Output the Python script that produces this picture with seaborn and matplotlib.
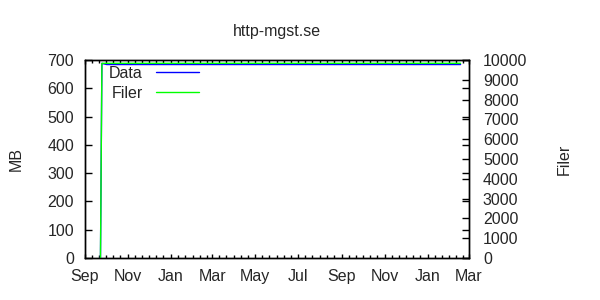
import matplotlib
matplotlib.use("Agg")
import matplotlib.pyplot as plt
import matplotlib.dates as mdates
import seaborn as sns
import pandas as pd

# ---- data ----
title = "http-mgst.se"
data_dates = ["2008-09-23", "2008-09-24", "2008-09-25", "2008-10-02", "2010-02-17"]
data_mb = [0, 340, 688, 684, 684]
filer_dates = ["2008-09-23", "2008-09-24", "2008-09-25", "2010-02-17"]
filer_count = [0, 4860, 9833, 9833]
x_start, x_end = "2008-09-01", "2010-03-01"
mb_ticks = [0, 100, 200, 300, 400, 500, 600, 700]
filer_ticks = [0, 1000, 2000, 3000, 4000, 5000, 6000, 7000, 8000, 9000, 10000]

df_data = pd.DataFrame({"date": pd.to_datetime(data_dates), "val": data_mb})
df_filer = pd.DataFrame({"date": pd.to_datetime(filer_dates), "val": filer_count})

sns.set_style("white")
plt.rcParams["font.family"] = ["Liberation Sans", "DejaVu Sans"]
FS = 11.5
plt.rcParams["font.size"] = FS

fig = plt.figure(figsize=(6, 3), dpi=100)
ax = fig.add_axes([85 / 600, 1 - 258 / 300, (469 - 85) / 600, (258 - 60) / 300])
ax2 = ax.twinx()

sns.lineplot(data=df_data, x="date", y="val", ax=ax, color="#0000ff", lw=1, label="Data", legend=False)
sns.lineplot(data=df_filer, x="date", y="val", ax=ax2, color="#00ff00", lw=1, label="Filer", legend=False)

ax.set_xlim(pd.Timestamp(x_start), pd.Timestamp(x_end))
ax.set_ylim(0, 700)
ax2.set_ylim(0, 10000)
ax.set_yticks(mb_ticks)
ax2.set_yticks(filer_ticks)

ax.xaxis.set_major_locator(mdates.MonthLocator(bymonth=[1, 3, 5, 7, 9, 11]))
ax.xaxis.set_major_formatter(mdates.DateFormatter("%b"))
ax.xaxis.set_minor_locator(mdates.DayLocator(bymonthday=[1, 11, 21]))

for a in (ax, ax2):
    for s in a.spines.values():
        s.set_color("black")
        s.set_linewidth(1)
        s.set_visible(True)

ax.tick_params(axis="x", which="both", direction="in", top=True, bottom=True,
               length=3, width=1, color="black", pad=8, labelsize=FS)
ax.tick_params(axis="x", which="minor", length=2)
ax.tick_params(axis="y", which="major", direction="in", left=True, right=True,
               length=5, width=1, color="black", pad=8, labelsize=FS)
ax2.tick_params(axis="y", which="major", direction="in", right=True,
                length=5, width=1, color="black", pad=10, labelsize=FS)

ax.set_xlabel("")
ax.set_ylabel("MB", fontsize=FS, labelpad=17)
ax2.set_ylabel("Filer", fontsize=FS, labelpad=21)
ax.set_title(title, fontsize=FS, pad=17)

h1, l1 = ax.get_legend_handles_labels()
h2, l2 = ax2.get_legend_handles_labels()
leg = ax2.legend(h1 + h2, l1 + l2, loc="upper left", bbox_to_anchor=(0.0625, 0.97),
                 frameon=False, markerfirst=False, handlelength=2.75,
                 handletextpad=0.8, labelspacing=0.3, fontsize=FS,
                 borderpad=0, borderaxespad=0)

fig.savefig("out.png", dpi=100)
